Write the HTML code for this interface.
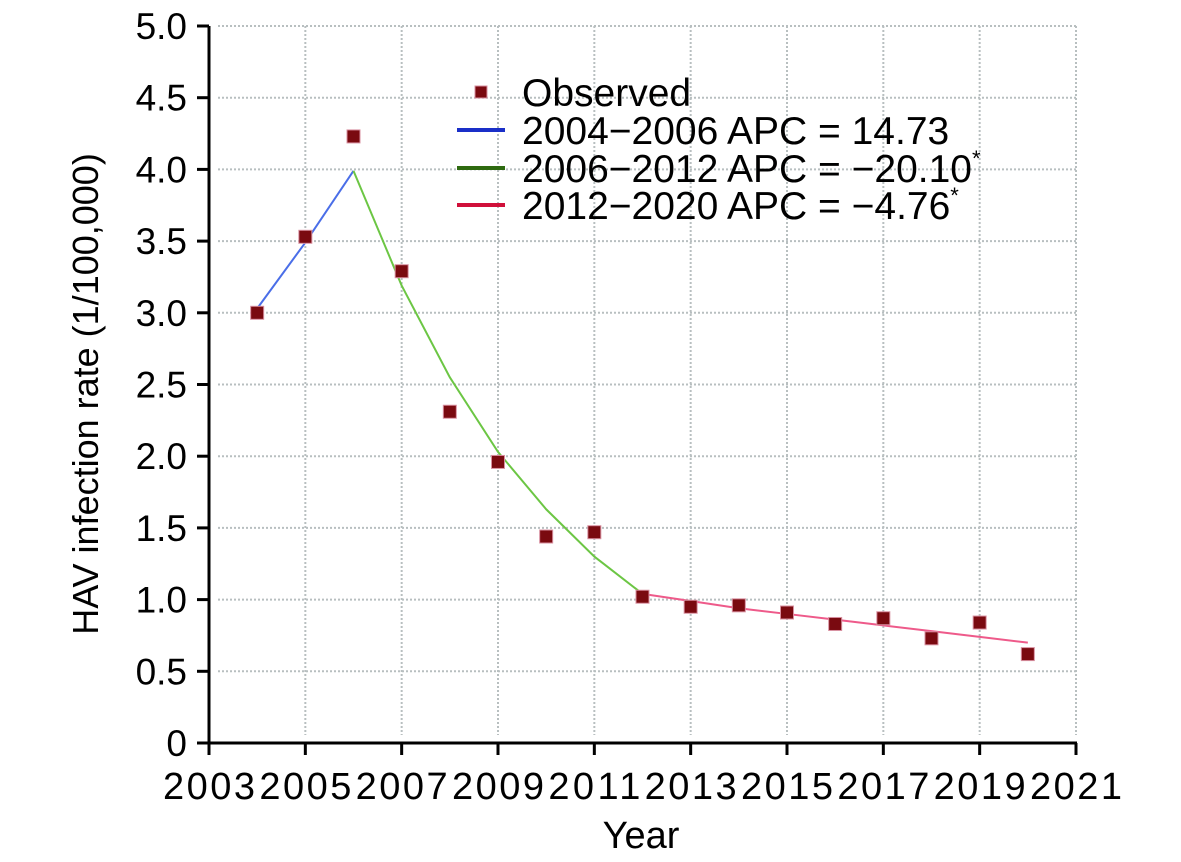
<!DOCTYPE html>
<html><head><meta charset="utf-8"><style>
body{margin:0;background:#fff;}
svg{display:block;font-family:"Liberation Sans",sans-serif;}
</style></head><body>
<svg id="chart" width="1181" height="862"></svg>
<script>
const years=[2004,2005,2006,2007,2008,2009,2010,2011,2012,2013,2014,2015,2016,2017,2018,2019,2020];
const observed=[3.0,3.53,4.23,3.29,2.31,1.96,1.44,1.47,1.02,0.95,0.96,0.91,0.83,0.87,0.73,0.84,0.62];
const seg1Years=[2004,2005,2006];
const seg1Vals=[3.03,3.49,3.99];
const seg2Years=[2006,2007,2008,2009,2010,2011,2012];
const seg2Vals=[3.99,3.19,2.55,2.03,1.63,1.30,1.04];
const seg3Years=[2012,2013,2014,2015,2016,2017,2018,2019,2020];
const seg3Vals=[1.04,0.99,0.94,0.90,0.86,0.82,0.78,0.74,0.70];
const yTicks=[0,0.5,1.0,1.5,2.0,2.5,3.0,3.5,4.0,4.5,5.0];
const yTickLabels=["0","0.5","1.0","1.5","2.0","2.5","3.0","3.5","4.0","4.5","5.0"];
const xTicks=[2003,2005,2007,2009,2011,2013,2015,2017,2019,2021];
const legendLabels=["Observed","2004\u22122006 APC = 14.73","2006\u22122012 APC = \u221220.10","2012\u22122020 APC = \u22124.76"];

const NS="http://www.w3.org/2000/svg";
const svg=document.getElementById('chart');
const X0=209,X1=1076,Y0=743,Y1=26;
const xs=v=>X0+(v-2003)/(2021-2003)*(X1-X0);
const ys=v=>Y0-v/5*(Y0-Y1);
function mk(tag,attrs,parent){const e=document.createElementNS(NS,tag);for(const k in attrs)e.setAttribute(k,attrs[k]);(parent||svg).appendChild(e);return e;}

const grid=mk('g',{});


yTicks.forEach(t=>{if(t===0)return;
 const l=mk('line',{x1:218,x2:X1,y1:ys(t),y2:ys(t),stroke:'#b8bfc0','stroke-width':2,'stroke-dasharray':'2,2'},grid);
 
 
});
xTicks.forEach(t=>{if(t===2003)return;
 const l=mk('line',{x1:xs(t),x2:xs(t),y1:Y1,y2:735,stroke:'#b8bfc0','stroke-width':2,'stroke-dasharray':'2,2'},grid);
 
 
});

const ax=mk('g',{stroke:'#000','stroke-width':3});


mk('line',{x1:X0,x2:X0,y1:Y1,y2:Y0+1},ax);
mk('line',{x1:X0-12,x2:X1+1,y1:Y0,y2:Y0},ax);
yTicks.forEach((t,i)=>{
 mk('line',{x1:X0-12,x2:X0,y1:ys(t),y2:ys(t)},ax);
 const tx=mk('text',{x:X0-22,y:ys(t)+13,'text-anchor':'end','font-size':37,fill:'#000',stroke:'none'});
 tx.textContent=yTickLabels[i];
 
 
});
xTicks.forEach(t=>{
 mk('line',{x1:xs(t),x2:xs(t),y1:Y0,y2:Y0+12},ax);
 const tx=mk('text',{x:xs(t),y:Y0+56,'text-anchor':'middle','font-size':38,'textLength':92,fill:'#000',stroke:'none'});
 tx.textContent=t;
 
 
});
const xt=mk('text',{x:641,y:848,'text-anchor':'middle','font-size':38});
xt.textContent='Year';


const yt=mk('text',{x:0,y:0,'text-anchor':'middle','font-size':36,transform:'translate(98,394) rotate(-90)'});
yt.textContent='HAV infection rate (1/100,000)';



function line(xsArr,vals,color,name){
 const p=mk('polyline',{points:xsArr.map((x,i)=>xs(x)+','+ys(vals[i])).join(' '),fill:'none',stroke:color,'stroke-width':2});
 
 
}
line(seg1Years,seg1Vals,'#4a6ee8','fit-2004-2006');
line(seg2Years,seg2Vals,'#6cc644','fit-2006-2012');
line(seg3Years,seg3Vals,'#ee5a8a','fit-2012-2020');

years.forEach((y,i)=>{
 const r=mk('rect',{x:xs(y)-6.5,y:ys(observed[i])-6.5,width:13,height:13,fill:'#7a0a10',stroke:'#d890a0','stroke-width':1});
 
 
});

const lg=mk('g',{});


const ly=[93,131,169,206];
const lc=[null,'#1a2fc8','#2e6a10','#d0103a'];
legendLabels.forEach((lab,i)=>{
 if(i===0){mk('rect',{x:475,y:ly[0]-7,width:12,height:12,fill:'#7a0a10',stroke:'#d890a0'},lg);}
 else mk('line',{x1:457,x2:505,y1:ly[i]-1,y2:ly[i]-1,stroke:lc[i],'stroke-width':4},lg);
 const t=mk('text',{x:522,y:ly[i]+13,'font-size':39},lg);
 t.textContent=lab;
 
 
 if(i>=2){const s=mk('tspan',{'font-size':22,dy:-16},t);s.textContent='*';}
});
</script>
</body></html>
